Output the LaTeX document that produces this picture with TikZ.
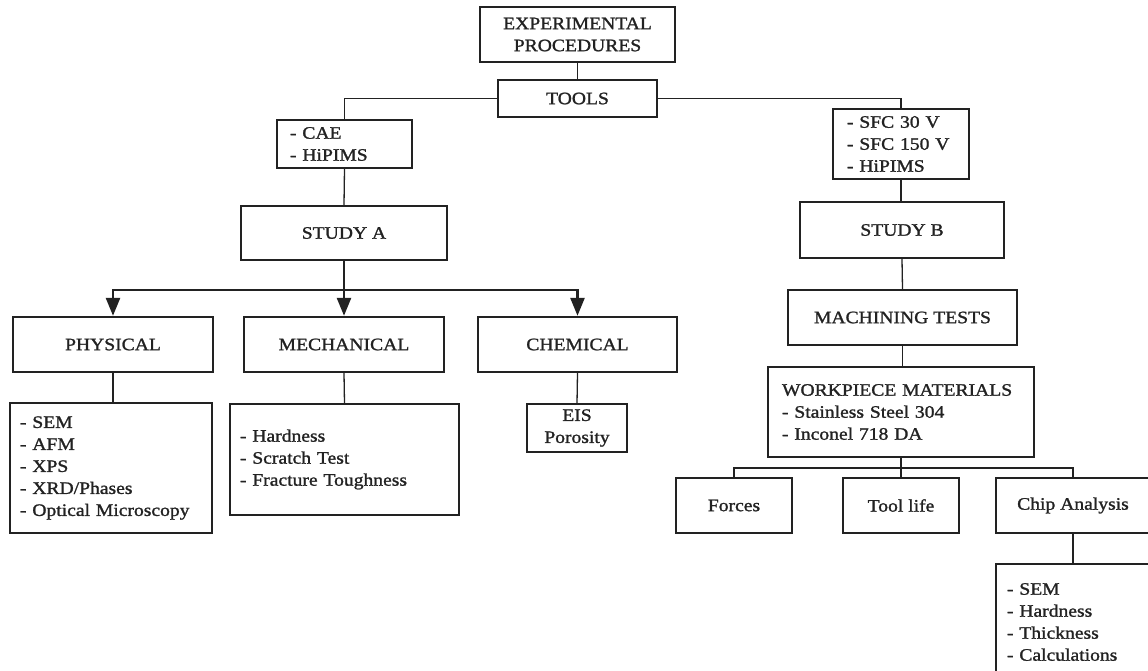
\documentclass[tikz,border=0pt]{standalone}
\usepackage{fontspec}
\setmainfont{Liberation Serif}[FakeStretch=1.12, FakeBold=1.3]
\usetikzlibrary{arrows.meta}
\definecolor{ink}{HTML}{222222}
\tikzset{
  every node/.style={font=\fontsize{17.5}{22}\selectfont, text=ink},
  mainbox/.style={draw=ink, line width=2.4pt, inner sep=0pt, align=center},
  thinbox/.style={draw=ink, line width=1.3pt, inner sep=0pt, align=center},
  listbox/.style={draw=ink, line width=1.3pt, inner ysep=0pt, align=left},
  conn/.style={draw=ink, line width=1.3pt},
  thickconn/.style={draw=ink, line width=2.6pt},
  arr/.style={-{Triangle[width=14pt,length=18pt]}}
}
\begin{document}
\begin{tikzpicture}[x=1pt,y=-1pt]
\clip (0,0) rectangle (1148,671);
\fill[white] (0,0) rectangle (1148,671);
% top
\node[mainbox, minimum width=195, minimum height=55] (exp) at (577.5,34.5) {EXPERIMENTAL\\PROCEDURES};
\node[mainbox, minimum width=159, minimum height=37] (tools) at (577.5,98.5) {TOOLS};
% study A side
\node[listbox, minimum height=48, inner xsep=13, text width=109] (cae) at (344.5,144) {- CAE\\- HiPIMS};
\node[mainbox, minimum width=206, minimum height=54] (studyA) at (344,233) {STUDY A};
\node[mainbox, minimum width=200, minimum height=55] (phys) at (113,344.5) {PHYSICAL};
\node[mainbox, minimum width=200, minimum height=55] (mech) at (344,344.5) {MECHANICAL};
\node[mainbox, minimum width=199, minimum height=55] (chem) at (577.5,344.5) {CHEMICAL};
\node[listbox, minimum height=130, inner xsep=10, text width=182] (physd) at (111,468) {- SEM\\- AFM\\- XPS\\- XRD/Phases\\- Optical Microscopy};
\node[listbox, minimum height=111, inner xsep=10, text width=209] (mechd) at (344.5,459.5) {- Hardness\\- Scratch Test\\- Fracture Toughness};
\node[thinbox, minimum width=100, minimum height=48] (eis) at (577,428) {EIS\\Porosity};
% study B side
\node[listbox, minimum height=70, inner xsep=14, text width=108] (sfc) at (901,144) {- SFC 30 V\\- SFC 150 V\\- HiPIMS};
\node[mainbox, minimum width=204, minimum height=56] (studyB) at (902,230) {STUDY B};
\node[mainbox, minimum width=229, minimum height=55] (mach) at (902.5,317.5) {MACHINING TESTS};
\node[listbox, minimum height=90, inner xsep=14, text width=238] (work) at (901,412) {WORKPIECE MATERIALS\\- Stainless Steel 304\\- Inconel 718 DA};
\node[thinbox, minimum width=116, minimum height=55] (forces) at (734,505.5) {Forces};
\node[thinbox, minimum width=116, minimum height=55] (tlife) at (901,505.5) {Tool life};
\node[thinbox, minimum width=154, minimum height=55] (chip) at (1073,505.5) {Chip Analysis};
\node[listbox, minimum height=116, inner xsep=11, text width=142] (chipd) at (1078,622) {- SEM\\- Hardness\\- Thickness\\- Calculations};
% connectors
\draw[conn] (exp.south) -- (tools.north);
\draw[conn] (tools.west) -| (cae.north);
\draw[conn] (tools.east) -| (sfc.north);
\draw[conn] (cae.south) -- (studyA.north);
\coordinate (ja) at (344,290);
\draw[thickconn] (studyA.south) -- (ja);
\draw[thickconn, arr] (ja) -| (phys.north);
\draw[thickconn, arr] (ja) -| (chem.north);
\draw[thickconn, arr] (ja) -- (mech.north);
\draw[conn] (phys.south) -- (phys.south |- physd.north);
\draw[conn] (mech.south) -- (mechd.north);
\draw[conn] (chem.south) -- (eis.north);
\draw[conn] (sfc.south) -- (sfc.south |- studyB.north);
\draw[conn] (studyB.south) -- (mach.north);
\draw[conn] (mach.south) -- (mach.south |- work.north);
\coordinate (jw) at (901,468);
\draw[conn] (work.south) -- (tlife.north);
\draw[conn] (forces.north) |- (jw) -| (chip.north);
\draw[conn] (chip.south) -- (chip.south |- chipd.north);
\end{tikzpicture}
\end{document}
